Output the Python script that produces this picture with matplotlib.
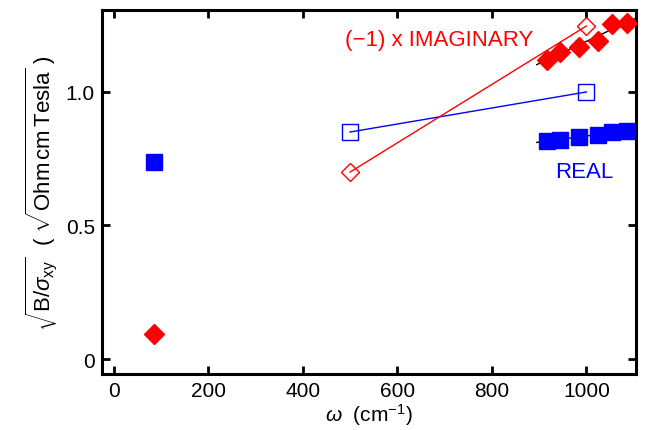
import numpy as np
import matplotlib as mpl
mpl.use('Agg')
import matplotlib.pyplot as plt

plt.rcParams['font.family'] = ['Liberation Sans', 'DejaVu Sans']
plt.rcParams['mathtext.fontset'] = 'custom'
plt.rcParams['mathtext.rm'] = 'Liberation Sans'
plt.rcParams['mathtext.it'] = 'Liberation Sans:italic'

# low frequency points
w_dc = [85]
real_dc = [0.738]
imag_dc = [0.094]

# open symbols connected by lines
w_open = [500, 1000]
real_open = [0.85, 1.0]
imag_open = [0.70, 1.247]

# high frequency data
w_hi = [916, 944, 984, 1024, 1055, 1085]
real_hi = [0.818, 0.821, 0.830, 0.840, 0.849, 0.855]
imag_hi = [1.12, 1.151, 1.17, 1.191, 1.255, 1.257]

fig = plt.figure(figsize=(6.49, 4.31), dpi=100)
ax = fig.add_axes([0.157, 0.130, 0.823, 0.8445])

# fit lines through high frequency data
xf = np.array([895, 1105])
pr = np.polyfit(w_hi, real_hi, 1)
pi = np.polyfit(w_hi, imag_hi, 1)
ax.plot(xf, np.polyval(pr, xf), color='black', lw=1, zorder=1)
ax.plot(xf, np.polyval(pi, xf), color='black', lw=1, zorder=1)

ax.plot(w_open, real_open, color='blue', lw=1, marker='s', ms=11,
        mfc='none', mec='blue', mew=1)
ax.plot(w_open, imag_open, color='red', lw=1, marker='D', ms=9,
        mfc='none', mec='red', mew=1)

ax.plot(w_hi, real_hi, ls='none', marker='s', ms=12, color='blue', zorder=3)
ax.plot(w_hi, imag_hi, ls='none', marker='D', ms=10, color='red', zorder=3)
ax.plot(w_dc, real_dc, ls='none', marker='s', ms=12, color='blue')
ax.plot(w_dc, imag_dc, ls='none', marker='D', ms=10, color='red')

ax.text(688, 1.198, '(\u22121) x IMAGINARY', color='red', fontsize=16,
        ha='center', va='center')
ax.text(995, 0.704, 'REAL', color='blue', fontsize=16, ha='center', va='center')

ax.set_xlim(-25, 1105)
ax.set_ylim(-0.056, 1.307)
ax.set_xticks([0, 200, 400, 600, 800, 1000])
ax.set_yticks([0, 0.5, 1.0])
ax.set_yticklabels(['0', '0.5', '1.0'])
ax.tick_params(direction='in', top=True, right=True, length=6, width=2,
               labelsize=15, pad=5)
for s in ax.spines.values():
    s.set_linewidth(2.2)

ax.set_xlabel(r'$\mathit{\omega}$  (cm$^{-1}$)', fontsize=15, labelpad=1)
ax.set_ylabel(r'$\sqrt{\mathrm{B}/\sigma_{\mathrm{xy}}}$  ( $\sqrt{\mathrm{Ohm\,cm\,Tesla}}$ )',
              fontsize=16, labelpad=4)

fig.savefig('out.png', dpi=100)
